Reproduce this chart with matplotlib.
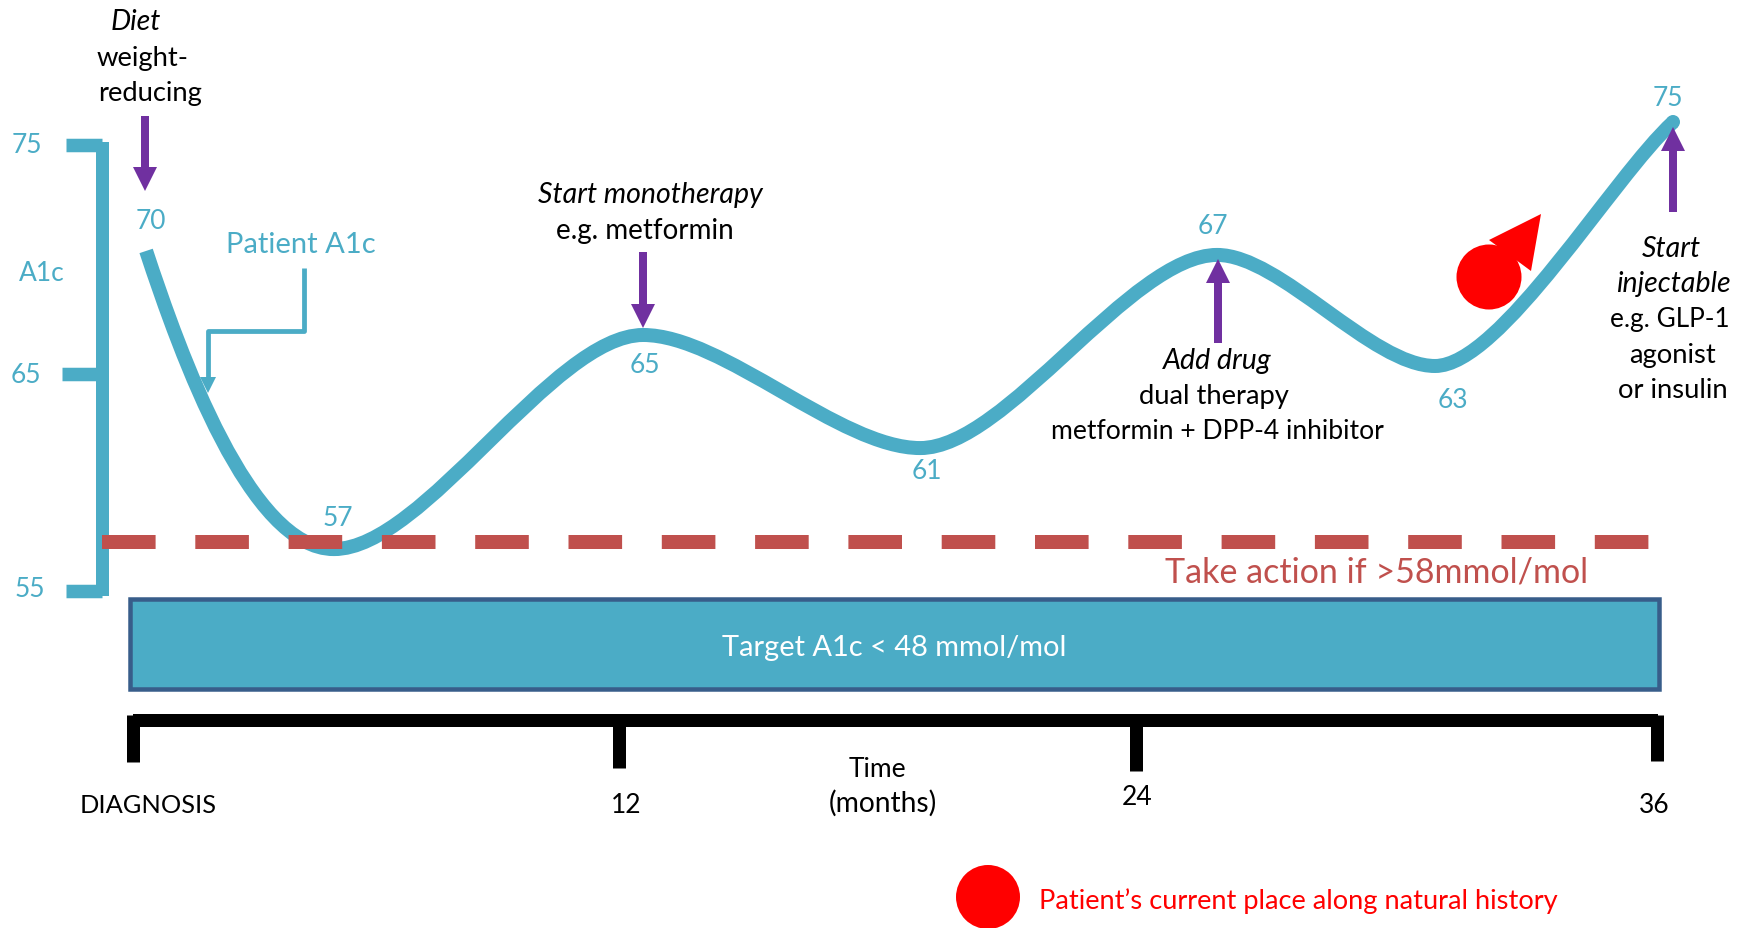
import matplotlib
matplotlib.use("Agg")
import numpy as np
import matplotlib.pyplot as plt
from matplotlib.path import Path
from matplotlib.patches import PathPatch, Rectangle, Circle, Polygon, FancyArrow
from matplotlib.transforms import Affine2D, blended_transform_factory

# --- data ---
# curve turning points, with the two bezier handles of each segment between them
knot_months = [0.31, 4.75, 12.06, 18.61, 25.63, 30.78, 36.41]
knot_a1c = [70.25, 56.88, 66.48, 61.41, 70.07, 65.09, 76.03]
handle_out_months = [1.13, 6.88, 13.95, 20.64, 27.12, 32.32]
handle_out_a1c = [65.54, 56.88, 66.48, 61.41, 70.07, 65.09]
handle_in_months = [2.77, 9.93, 16.71, 23.59, 29.29, 34.99]
handle_in_a1c = [56.88, 66.48, 61.41, 70.07, 65.09, 73.57]
time_ticks = [0, 11.5, 23.7, 36.02]
a1c_ticks = [75, 64.73, 55]
a1c_tick_labels = ["75", "65", "55"]
action_level = 57.2

TEAL = "#4BACC6"; NAVY = "#385D8A"; BRICK = "#C0504D"; PURPLE = "#7030A0"; RED = "#FF0000"
W, H = 1750, 929
X0, SX, Y0, SY = 133, 42.3, 146, 22.3

plt.rcParams["font.family"] = ["Lato", "DejaVu Sans"]
fig = plt.figure(figsize=(W / 100, H / 100), dpi=100)
ax = fig.add_axes([0, 0, 1, 1])
ax.set_xlim((0 - X0) / SX, (W - X0) / SX)
ax.set_ylim(75 - (H - Y0) / SY, 75 + Y0 / SY)
ax.axis("off")
px = Affine2D().scale(1 / W, -1 / H).translate(0, 1) + fig.transFigure
xdata_ypx = blended_transform_factory(ax.transData, px)
xpx_ydata = blended_transform_factory(px, ax.transData)
LW = 0.72


def label(x, y, s, size=19.7, color="black", **kw):
    ax.text(x, y + 2.5, s, transform=px, ha="center", va="center", fontsize=size, color=color, **kw)


def arrow(x, y0, y1, zorder=6):
    ax.add_patch(FancyArrow(x, y0, 0, y1 - y0, width=8, head_width=24, head_length=24,
                            length_includes_head=True, color=PURPLE, lw=0, transform=px, zorder=zorder))


# left axis
ax.add_patch(Rectangle((96, 143), 13, 454, color=TEAL, lw=0, transform=px, zorder=2))
for v, x0, lab, lx, ly in zip(a1c_ticks, [66, 62, 66], a1c_tick_labels, [27, 26, 30], [143, 373, 587]):
    ax.plot([x0, 102], [v, v], transform=xpx_ydata, color=TEAL, lw=13.5 * LW, solid_capstyle="butt", zorder=2)
    label(lx, ly, lab, size=19, color=TEAL)
label(42, 271, "A1c", size=19, color=TEAL)

# pointer for "Patient A1c"
ax.plot([304, 304, 208, 208], [269, 332, 332, 385], transform=px, color=TEAL, lw=4.8 * LW,
        solid_joinstyle="round", solid_capstyle="butt", zorder=2)
ax.add_patch(Polygon([(200, 378), (216, 378), (208, 394)], color=TEAL, lw=0, transform=px, zorder=2))
label(301, 243, "Patient A1c", size=21, color=TEAL)

# curve
verts, codes = [(knot_months[0], knot_a1c[0])], [Path.MOVETO]
for i in range(len(handle_out_months)):
    verts += [(handle_out_months[i], handle_out_a1c[i]), (handle_in_months[i], handle_in_a1c[i]),
              (knot_months[i + 1], knot_a1c[i + 1])]
    codes += [Path.CURVE4] * 3
ax.add_patch(PathPatch(Path(verts, codes), fill=False, edgecolor=TEAL, lw=14 * LW,
                       capstyle="butt", joinstyle="round", zorder=3))
ax.add_patch(Circle((1673, 123), 7, color=TEAL, lw=0, transform=px, zorder=3))

# threshold
ax.plot([102, 1649], [action_level, action_level], transform=xpx_ydata, color=BRICK, lw=14 * LW,
        dashes=(53.6 / 14, 39.7 / 14), dash_capstyle="butt", zorder=4)
label(1377, 570, "Take action if >58mmol/mol", size=24.5, color=BRICK)

# target box
ax.add_patch(Rectangle((130, 600), 1529, 90, facecolor=TEAL, edgecolor=NAVY, lw=4.5 * LW, transform=px, zorder=2))
label(894, 646, "Target A1c < 48 mmol/mol", size=20.9, color="white", zorder=5)

# time axis
ax.add_patch(Rectangle((133, 714.5), 1525, 13, color="black", lw=0, transform=px, zorder=2))
for m, top, bottom, lab, lx, ly, sz in zip(time_ticks, [716, 720, 720, 716], [763, 769, 772, 762],
                                           ["DIAGNOSIS", "12", "24", "36"],
                                           [148, 626, 1137, 1654], [803, 803, 795, 803],
                                           [18.3, 19, 19, 19]):
    ax.plot([m, m], [top, bottom], transform=xdata_ypx, color="black", lw=13 * LW, solid_capstyle="butt", zorder=2)
    label(lx, ly, lab, size=sz)
label(877, 767, "Time", size=19)
label(883, 801, "(months)", size=20.3)

# value labels
for x, y, s in [(151, 219, "70"), (338, 516, "57"), (645, 363, "65"), (927, 469, "61"),
                (1213, 224, "67"), (1453, 398, "63"), (1668, 96, "75")]:
    label(x, y, s, size=19, color=TEAL)

# treatment arrows
arrow(145, 117, 192)
arrow(643, 253, 329)
arrow(1218, 344, 260)
arrow(1673, 213, 128)

# treatment notes
label(136, 20, "Diet", size=20.5, style="italic")
label(143, 56, "weight-")
label(150, 91, "reducing")
label(650, 193, "Start monotherapy", size=20.5, style="italic")
label(645, 229, "e.g. metformin", size=20)
label(1217, 359, "Add drug", size=20.5, style="italic")
label(1214, 394, "dual therapy")
label(1217, 429, "metformin + DPP-4 inhibitor", size=19.1)
label(1671, 247, "Start", size=20.5, style="italic")
label(1673, 282, "injectable", size=20.5, style="italic")
label(1670, 317, "e.g. GLP-1", size=18.8)
label(1673, 353, "agonist")
label(1673, 388, "or insulin")

# current position marker
ax.add_patch(Polygon([(1541, 215), (1489, 241), (1531, 272)], color=RED, lw=0, transform=px, zorder=5))
ax.add_patch(Circle((1489, 278), 32.5, color=RED, lw=0, transform=px, zorder=5))

# key
ax.add_patch(Circle((988, 898), 32, color=RED, lw=0, transform=px, zorder=5))
label(1298, 899, "Patient\u2019s current place along natural history", size=19.6, color=RED)

fig.savefig("out.png", dpi=100, facecolor="white")
